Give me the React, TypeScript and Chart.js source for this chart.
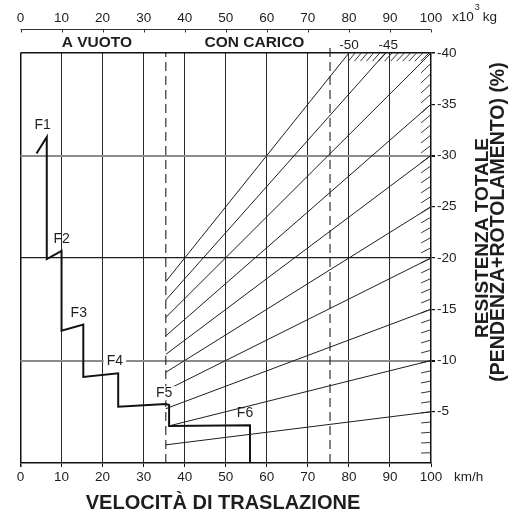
import React, { useEffect, useRef } from "react";
import { Chart, registerables } from "chart.js";

Chart.register(...registerables);

// ---- data ----
const speedTicks = [0, 10, 20, 30, 40, 50, 60, 70, 80, 90, 100];
const massTicks = [0, 10, 20, 30, 40, 50, 60, 70, 80, 90, 100];
const resistanceTicks = [0, 5, 10, 15, 20, 25, 30, 35, 40];

// resistance (grade) lines, % labels
const gradeValues = [5, 10, 15, 20, 25, 30, 35, 40, 45, 50];
const gradeStartSpeed = [35.4, 36.2, 35.4, 35.4, 35.4, 35.4, 35.4, 35.4, 35.4, 35.4];
const gradeStartRes = [1.77, 3.62, 5.3, 7.08, 8.85, 10.6, 12.4, 14.2, 15.9, 17.7];
const gradeEndSpeed = [100, 100, 100, 100, 100, 100, 100, 100, 88.9, 80];
const gradeEndRes = [5, 10, 15, 20, 25, 30, 35, 40, 40, 40];

// tractive effort step curve
const effortSpeed = [3.9, 6.4, 6.4, 10.0, 10.0, 15.3, 15.3, 23.8, 23.8, 35.4, 36.2, 36.2, 55.9, 55.9];
const effortRes = [30.2, 31.8, 19.9, 20.7, 12.9, 13.5, 8.4, 8.75, 5.5, 5.75, 5.66, 3.6, 3.68, 0];

const stageNames = ["F1", "F2", "F3", "F4", "F5", "F6"];
const stageSpeed = [5.4, 10.0, 14.2, 23.0, 35.0, 54.7];
const stageRes = [33.0, 21.8, 14.6, 9.95, 6.8, 4.9];
const stageBoxed = [false, false, false, true, true, false];

const limitSpeeds = [35.4, 75.4];
const limitTop = [40, 40.5];

const bandLabels = ["A VUOTO", "CON CARICO"];
const bandSpeed = [18.6, 57.0];
const gradeTopLabels = ["-50", "-45"];
const gradeTopSpeed = [80, 89.6];

const FONT = '"Liberation Sans", Arial, Helvetica, sans-serif';
const INK = "#1e1e1e";

const annotPlugin = {
  id: "annot",
  afterDatasetsDraw(chart: any) {
    const { ctx, scales } = chart;
    const x = scales.x;
    const y = scales.y;
    ctx.save();
    // hatching along right edge
    ctx.strokeStyle = INK;
    ctx.lineWidth = 0.9;
    for (let k = 1; k < 40; k++) {
      ctx.beginPath();
      ctx.moveTo(x.getPixelForValue(97.6), y.getPixelForValue(k * 0.976));
      ctx.lineTo(x.getPixelForValue(100), y.getPixelForValue(k));
      ctx.stroke();
    }
    // hatching along top edge
    for (let xe = 81.5; xe < 100; xe += 1.5) {
      ctx.beginPath();
      ctx.moveTo(x.getPixelForValue((xe * 39.2) / 40), y.getPixelForValue(39.2));
      ctx.lineTo(x.getPixelForValue(xe), y.getPixelForValue(40));
      ctx.stroke();
    }
    // stage labels
    ctx.font = `14px ${FONT}`;
    ctx.textAlign = "center";
    ctx.textBaseline = "middle";
    stageNames.forEach((n, i) => {
      const px = x.getPixelForValue(stageSpeed[i]);
      const py = y.getPixelForValue(stageRes[i]);
      if (stageBoxed[i]) {
        const w = ctx.measureText(n).width;
        ctx.fillStyle = "#fff";
        ctx.fillRect(px - w / 2 - 3, py - 7, w + 6, 14);
      }
      ctx.fillStyle = INK;
      ctx.fillText(n, px, py);
    });
    ctx.restore();
  },
  afterDraw(chart: any) {
    const { ctx, chartArea: a, scales } = chart;
    const x = scales.x;
    ctx.save();
    // top (mass) axis line and ticks
    const topY = 29.5;
    ctx.strokeStyle = "#333";
    ctx.lineWidth = 1;
    ctx.beginPath();
    ctx.moveTo(x.getPixelForValue(0), topY);
    ctx.lineTo(x.getPixelForValue(100), topY);
    ctx.stroke();
    massTicks.forEach((v) => {
      const px = Math.round(x.getPixelForValue(v)) + 0.5;
      ctx.beginPath();
      ctx.moveTo(px, topY);
      ctx.lineTo(px, topY + 3);
      ctx.stroke();
    });
    ctx.fillStyle = INK;
    ctx.textBaseline = "middle";
    // unit x10^3 kg
    ctx.textAlign = "left";
    ctx.font = `13.5px ${FONT}`;
    const ux = x.getPixelForValue(100) + 21;
    ctx.fillText("x10", ux, 17);
    const w10 = ctx.measureText("x10").width;
    ctx.font = `9px ${FONT}`;
    ctx.fillText("3", ux + w10 + 1, 8);
    ctx.font = `13.5px ${FONT}`;
    ctx.fillText("kg", ux + w10 + 9, 17);
    // km/h
    ctx.fillText("km/h", x.getPixelForValue(100) + 23, 477);
    // band labels
    ctx.textAlign = "center";
    ctx.font = `bold 15.5px ${FONT}`;
    bandLabels.forEach((t, i) => ctx.fillText(t, x.getPixelForValue(bandSpeed[i]), a.top - 10));
    ctx.font = `13.5px ${FONT}`;
    gradeTopLabels.forEach((t, i) => ctx.fillText(t, x.getPixelForValue(gradeTopSpeed[i]), a.top - 8));
    // bottom title
    ctx.font = `bold 20px ${FONT}`;
    ctx.fillText("VELOCITÀ DI TRASLAZIONE", 223, 503);
    // right titles
    ctx.font = `bold 19px ${FONT}`;
    ctx.save();
    ctx.translate(483, 238);
    ctx.rotate(-Math.PI / 2);
    ctx.fillText("RESISTENZA TOTALE", 0, 0);
    ctx.restore();
    ctx.save();
    ctx.translate(499, 222);
    ctx.rotate(-Math.PI / 2);
    ctx.font = `bold 19.5px ${FONT}`;
    ctx.fillText("(PENDENZA+ROTOLAMENTO) (%)", 0, 0);
    ctx.restore();
    ctx.restore();
  },
};

export default function App() {
  const ref = useRef<HTMLCanvasElement>(null);
  useEffect(() => {
    const datasets: any[] = [];
    gradeValues.forEach((g, i) => {
      datasets.push({
        label: "-" + g,
        data: [
          { x: gradeStartSpeed[i], y: gradeStartRes[i] },
          { x: gradeEndSpeed[i], y: gradeEndRes[i] },
        ],
        borderColor: INK,
        borderWidth: 1,
        pointRadius: 0,
      });
    });
    limitSpeeds.forEach((s, i) => {
      datasets.push({
        label: "limit" + i,
        data: [
          { x: s, y: 0 },
          { x: s, y: limitTop[i] },
        ],
        borderColor: INK,
        borderWidth: 1.1,
        borderDash: [9, 5],
        pointRadius: 0,
        clip: false,
      });
    });
    datasets.push({
      label: "F",
      data: effortSpeed.map((s, i) => ({ x: s, y: effortRes[i] })),
      borderColor: "#111",
      borderWidth: 2,
      pointRadius: 0,
      borderJoinStyle: "miter",
    });

    const chart = new Chart(ref.current as HTMLCanvasElement, {
      type: "line",
      data: { datasets },
      plugins: [annotPlugin],
      options: {
        animation: false,
        responsive: false,
        parsing: false as any,
        layout: { padding: { left: 20.5, right: 0, top: 0, bottom: 0 } },
        plugins: { legend: { display: false }, tooltip: { enabled: false } },
        scales: {
          x: {
            type: "linear",
            position: "bottom",
            min: 0,
            max: 100,
            afterBuildTicks: (s: any) => {
              s.ticks = speedTicks.map((v) => ({ value: v }));
            },
            afterFit: (s: any) => {
              s.height = 56;
            },
            ticks: {
              color: INK,
              font: { family: FONT, size: 13.5 },
              padding: 2,
              maxRotation: 0,
              autoSkip: false,
            },
            grid: {
              color: (c: any) => (c.tick && c.tick.value === 100 ? "rgba(0,0,0,0)" : c.tick && c.tick.value === 0 ? "#111" : "#2a2a2a"),
              lineWidth: (c: any) => (c.tick && c.tick.value === 0 ? 1.5 : 1),
              tickColor: "#111",
              tickLength: 4,
            },
            border: { display: true, color: "#111", width: 1.5 },
          },
          x2: {
            type: "linear",
            position: "top",
            min: 0,
            max: 100,
            afterBuildTicks: (s: any) => {
              s.ticks = massTicks.map((v) => ({ value: v }));
            },
            afterFit: (s: any) => {
              s.height = 53;
            },
            ticks: {
              color: INK,
              font: { family: FONT, size: 13.5 },
              padding: 0,
              maxRotation: 0,
              autoSkip: false,
            },
            grid: { display: false, drawTicks: true, tickLength: 27 },
            border: { display: false },
          },
          y: {
            type: "linear",
            position: "right",
            min: 0,
            max: 40,
            afterBuildTicks: (s: any) => {
              s.ticks = resistanceTicks.map((v) => ({ value: v }));
            },
            afterFit: (s: any) => {
              s.width = 90;
            },
            ticks: {
              color: INK,
              font: { family: FONT, size: 13.5 },
              padding: 2,
              callback: (v: any) => (Number(v) === 0 ? "" : "-" + v),
            },
            grid: {
              color: (c: any) => {
                const v = c.tick ? c.tick.value : -1;
                if (v === 10 || v === 30) return "#8c8c8c";
                if (v === 20) return "#1e1e1e";
                if (v === 40) return "#111";
                return "rgba(0,0,0,0)";
              },
              lineWidth: (c: any) => {
                const v = c.tick ? c.tick.value : -1;
                if (v === 10 || v === 30) return 2;
                if (v === 40) return 1.5;
                return 1.2;
              },
              tickColor: (c: any) => (c.tick && c.tick.value === 0 ? "rgba(0,0,0,0)" : "#111"),
              tickLength: 4,
            },
            border: { display: true, color: "#111", width: 1.5 },
          },
        },
      },
    });
    return () => chart.destroy();
  }, []);
  return (
    <div style={{ position: "fixed", left: 0, top: 0, width: 521, height: 519, background: "#fff" }}>
      <canvas ref={ref} width={521} height={519} style={{ width: 521, height: 519, display: "block" }} />
    </div>
  );
}
